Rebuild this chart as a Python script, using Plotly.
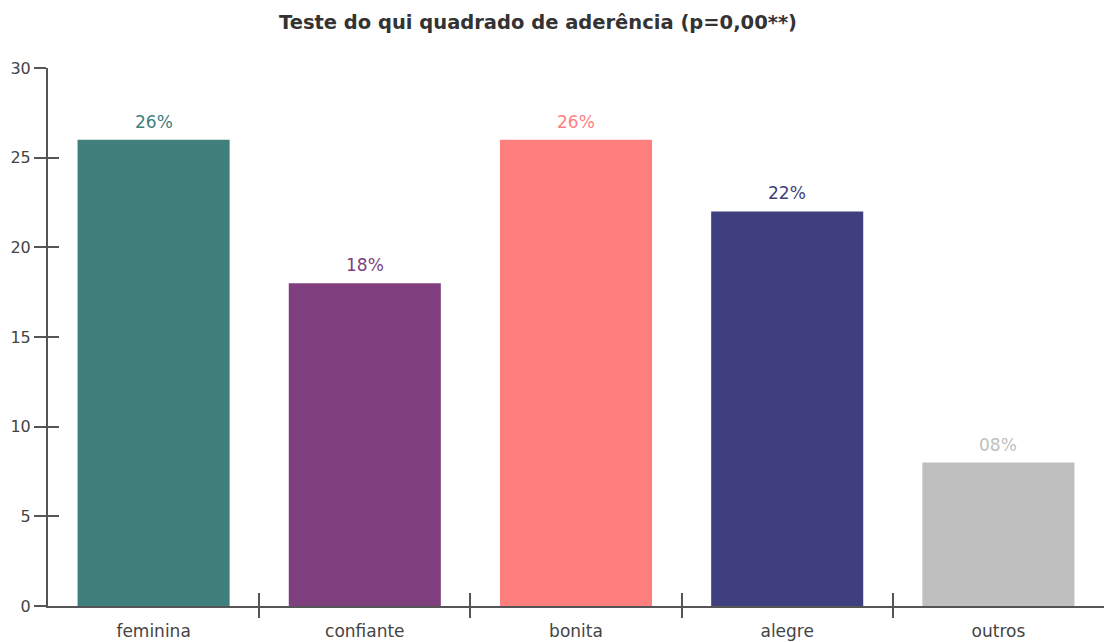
import plotly.graph_objects as go

categories = ["feminina", "confiante", "bonita", "alegre", "outros"]
values = [26, 18, 26, 22, 8]
labels = ["26%", "18%", "26%", "22%", "08%"]
colors = ["#3f7f7c", "#7f3f7f", "#ff7f7f", "#3f3f7f", "#bfbfbf"]
y_ticks = [0, 5, 10, 15, 20, 25, 30]
title = "Teste do qui quadrado de aderência (p=0,00**)"

AXIS = "#555555"
FONT = "DejaVu Sans"
n = len(categories)
boundaries = [i + 0.5 for i in range(n - 1)]

fig = go.Figure()
fig.add_trace(go.Bar(
    x=categories, y=values, width=0.72,
    marker=dict(color=colors, line=dict(width=0)),
    hoverinfo="skip", showlegend=False,
))
# empty helper traces so the overlay axes (used only for crossing tick marks) are drawn
fig.add_trace(go.Scatter(x=[None], y=[None], xaxis="x2", yaxis="y", showlegend=False, hoverinfo="skip"))
fig.add_trace(go.Scatter(x=[None], y=[None], xaxis="x3", yaxis="y", showlegend=False, hoverinfo="skip"))
fig.add_trace(go.Scatter(x=[None], y=[None], xaxis="x", yaxis="y2", showlegend=False, hoverinfo="skip"))

for c, v, t, col in zip(categories, values, labels, colors):
    fig.add_annotation(x=c, y=v, text=t, showarrow=False, yanchor="bottom",
                       yshift=6, font=dict(family=FONT, size=17, color=col))

fig.update_layout(
    width=1104, height=642,
    margin=dict(l=48, r=0, t=68, b=36),
    paper_bgcolor="white", plot_bgcolor="white",
    title=dict(text="<b>" + title + "</b>", x=538 / 1104, xref="container", xanchor="center",
               y=1 - 22 / 642, yref="container", yanchor="middle",
               font=dict(family=FONT, size=19.5, color="#333333")),
    xaxis=dict(type="category", range=[-0.5, n - 0.5], showgrid=False, zeroline=False,
               showline=True, linecolor=AXIS, linewidth=2, ticks="",
               ticklabelstandoff=9,
               tickfont=dict(family=FONT, size=17, color="#444444")),
    xaxis2=dict(type="linear", overlaying="x", anchor="y", range=[-0.5, n - 0.5],
                tickmode="array", tickvals=boundaries, ticks="outside", ticklen=11,
                tickwidth=2, tickcolor=AXIS, showticklabels=False, showgrid=False,
                zeroline=False, showline=False),
    xaxis3=dict(type="linear", overlaying="x", anchor="y", range=[-0.5, n - 0.5],
                tickmode="array", tickvals=boundaries, ticks="inside", ticklen=13,
                tickwidth=2, tickcolor=AXIS, showticklabels=False, showgrid=False,
                zeroline=False, showline=False),
    yaxis=dict(range=[0, 30], tickmode="array", tickvals=y_ticks, showgrid=False,
               zeroline=False, showline=True, linecolor=AXIS, linewidth=2,
               ticks="outside", ticklen=12, tickwidth=2, tickcolor=AXIS,
               tickfont=dict(family=FONT, size=16, color="#444444")),
    yaxis2=dict(range=[0, 30], overlaying="y", anchor="x", side="left",
                tickmode="array", tickvals=y_ticks, ticks="inside", ticklen=11,
                tickwidth=2, tickcolor=AXIS, showticklabels=False, showgrid=False,
                zeroline=False, showline=False),
)

fig.write_html("out.html", config={"displayModeBar": False},
               post_script="document.body.style.margin='0';document.body.style.overflow='hidden';")
